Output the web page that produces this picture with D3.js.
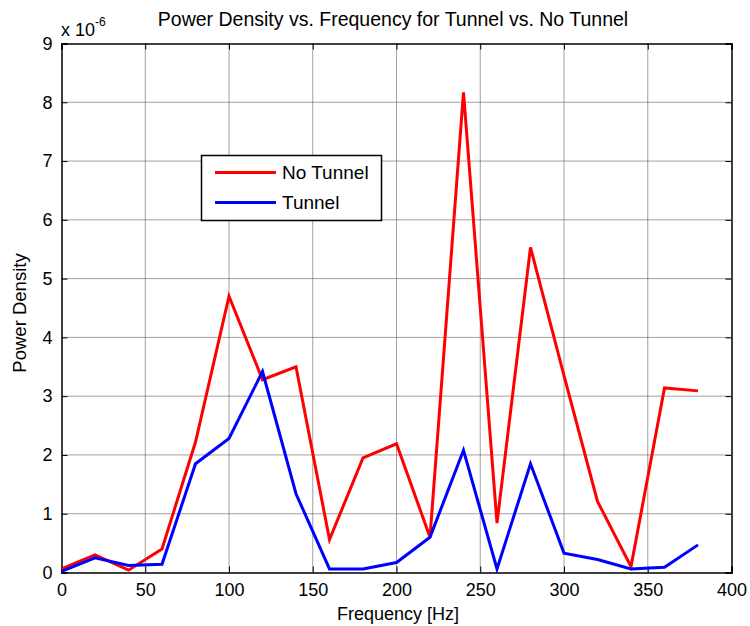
<!DOCTYPE html>
<html><head><meta charset="utf-8">
<script src="https://cdn.jsdelivr.net/npm/d3@7/dist/d3.min.js"></script>
<style>
body{margin:0;background:#fff;}
text{font-family:"Liberation Sans",Arial,sans-serif;fill:#000;}
</style></head><body>
<svg id="chart" width="750" height="626"></svg>
<script>
const frequencies = [0,20,40,60,80,100,120,140,160,180,200,220,240,260,280,300,320,340,360,380];
const noTunnel = [0.06,0.30,0.04,0.40,2.22,4.70,3.28,3.50,0.56,1.95,2.19,0.60,8.17,0.84,5.53,3.35,1.21,0.10,3.14,3.09];
const tunnel   = [0.02,0.25,0.12,0.14,1.85,2.28,3.42,1.34,0.06,0.06,0.17,0.60,2.08,0.06,1.85,0.33,0.22,0.06,0.09,0.47];
const xTicks = [0,50,100,150,200,250,300,350,400];
const yTicks = [0,1,2,3,4,5,6,7,8,9];
const seriesNames = ["No Tunnel","Tunnel"];
const seriesColors = ["#ff0000","#0000ff"];

const svg = d3.select("#chart");
const L=61.5, R=731.5, T=43.5, B=572.5;
const x = d3.scaleLinear().domain([0,400]).range([L,R]);
const y = d3.scaleLinear().domain([0,9]).range([B,T]);

// grid
const g = svg.append("g");
g.selectAll(".vg").data(xTicks.slice(1,-1)).enter().append("line")
  .attr("x1",d=>x(d)).attr("x2",d=>x(d)).attr("y1",T).attr("y2",B)
  .attr("stroke","#444").attr("stroke-width",1).attr("stroke-dasharray","1,1");
g.selectAll(".hg").data(yTicks.slice(1,-1)).enter().append("line")
  .attr("y1",d=>y(d)).attr("y2",d=>y(d)).attr("x1",L).attr("x2",R)
  .attr("stroke","#444").attr("stroke-width",1).attr("stroke-dasharray","1,1");

// axes (ticks inward)
const fs = 18;
const xAxis = svg.append("g").attr("transform",`translate(0,${B})`)
  .call(d3.axisBottom(x).tickValues(xTicks).tickSize(-6).tickPadding(11).tickFormat(d3.format("d")));
const xAxisTop = svg.append("g").attr("transform",`translate(0,${T})`)
  .call(d3.axisTop(x).tickValues(xTicks).tickSize(-6).tickFormat(""));
const yAxis = svg.append("g").attr("transform",`translate(${L},0)`)
  .call(d3.axisLeft(y).tickValues(yTicks).tickSize(-6).tickPadding(9).tickFormat(d3.format("d")));
const yAxisR = svg.append("g").attr("transform",`translate(${R},0)`)
  .call(d3.axisRight(y).tickValues(yTicks).tickSize(-6).tickFormat(""));
[xAxis,xAxisTop,yAxis,yAxisR].forEach(a=>{
  a.select(".domain").attr("stroke","#000").attr("stroke-width",1.5);
  a.selectAll(".tick line").attr("stroke","#000");
  a.selectAll(".tick text").attr("font-size",fs).attr("font-family","Liberation Sans, Arial, sans-serif").attr("fill","#000");
});

// lines
const line = d3.line().x((d,i)=>x(frequencies[i])).y(d=>y(d));
[noTunnel,tunnel].forEach((s,k)=>{
  svg.append("path").datum(s).attr("d",line).attr("fill","none")
    .attr("stroke",seriesColors[k]).attr("stroke-width",3).attr("stroke-linejoin","miter");
});

// title and labels
svg.append("text").attr("x",393).attr("y",26).attr("text-anchor","middle").attr("font-size",19.5)
  .text("Power Density vs. Frequency for Tunnel vs. No Tunnel");
svg.append("text").attr("x",398).attr("y",620).attr("text-anchor","middle").attr("font-size",18)
  .text("Frequency [Hz]");
svg.append("text").attr("transform","translate(26,313) rotate(-90)").attr("text-anchor","middle").attr("font-size",18.5)
  .text("Power Density");
const ex = svg.append("text").attr("x",61).attr("y",36).attr("font-size",fs);
ex.append("tspan").text("x 10");
ex.append("tspan").attr("dy",-10).attr("font-size",12).text("-6");

// legend
const lg = svg.append("g");
lg.append("rect").attr("x",201.5).attr("y",155.5).attr("width",180).attr("height",65)
  .attr("fill","#fff").attr("stroke","#000").attr("stroke-width",1.5);
seriesNames.forEach((n,k)=>{
  const yy = 172.5 + k*30;
  lg.append("line").attr("x1",215).attr("x2",276).attr("y1",yy).attr("y2",yy)
    .attr("stroke",seriesColors[k]).attr("stroke-width",3);
  lg.append("text").attr("x",282).attr("y",yy+6.5).attr("font-size",19).text(n);
});
</script></body></html>
